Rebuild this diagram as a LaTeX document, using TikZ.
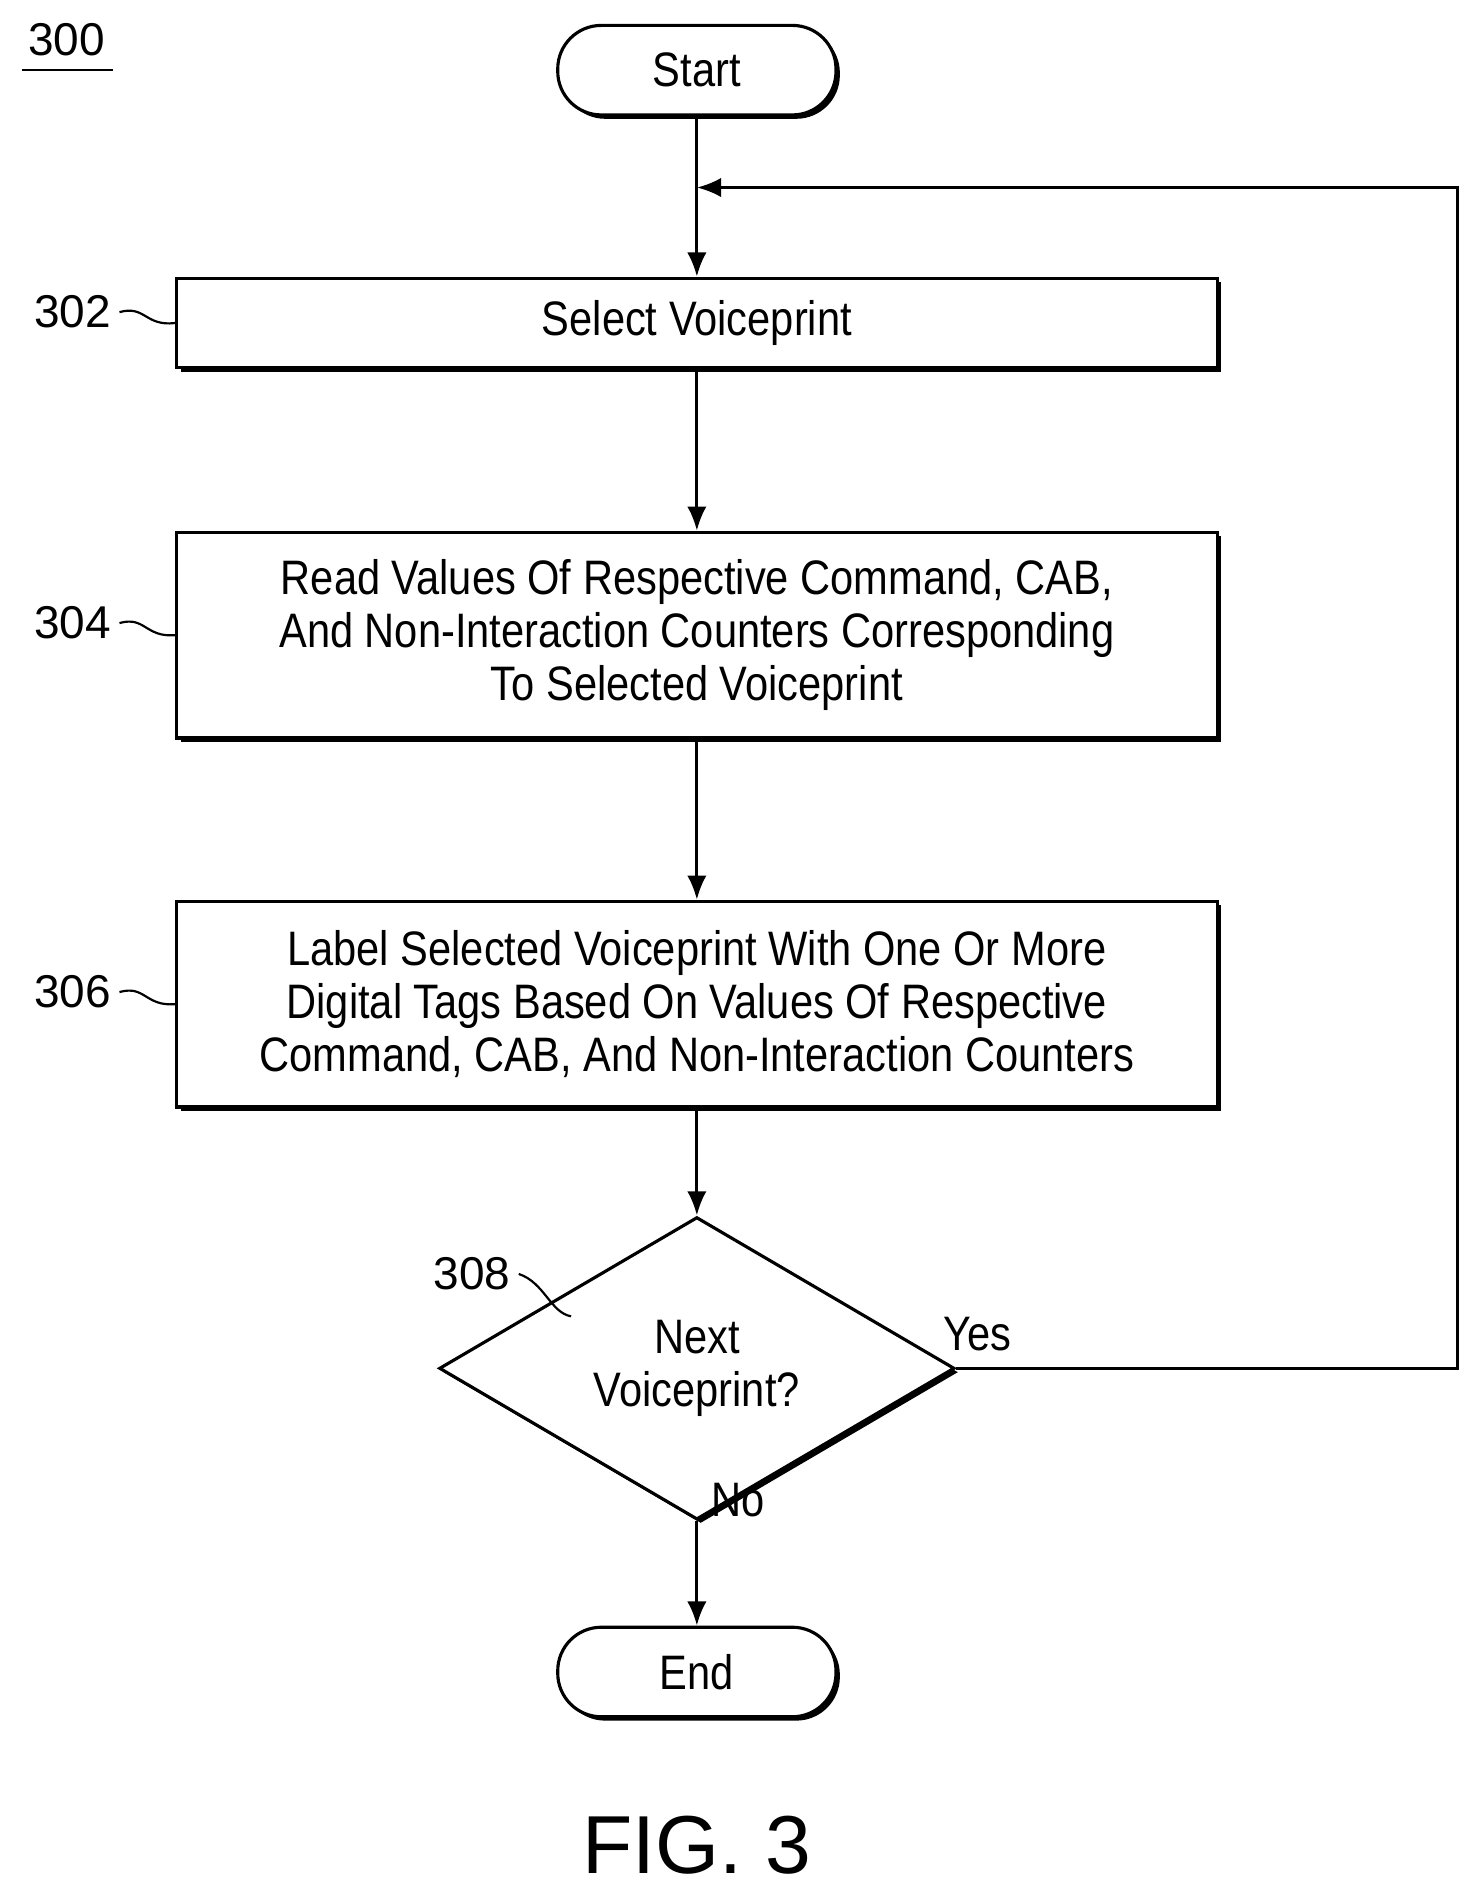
\documentclass[tikz,border=0pt]{standalone}
\usepackage{fontspec}
\setmainfont{Liberation Sans}
\newfontfamily\nar[FakeStretch=0.86]{Liberation Sans}
\usetikzlibrary{shapes.geometric,shadows,arrows.meta}
\begin{document}
\begin{tikzpicture}[x=0.5pt,y=-0.5pt,
 sh/.style={drop shadow={shadow xshift=1.6pt,shadow yshift=-1.6pt,fill=black,opacity=1}},
 box/.style={draw,line width=1.3pt,fill=white,sh,minimum width=430pt,align=center,font=\nar\fontsize{20}{22}\selectfont},
 term/.style={draw,line width=1.3pt,fill=white,sh,rounded corners=18pt,minimum width=115pt,minimum height=37pt,font=\nar\fontsize{20}{22}\selectfont},
 ar/.style={line width=1.3pt,-{Latex[length=10pt,width=8pt]}},
 lab/.style={font=\fontsize{19}{21}\selectfont}]
\useasboundingbox (0,0) rectangle (1224,1568);
\node[lab] (n300) at (55,33) {300};
\draw[line width=1pt] (18,58) -- (93,58);
\node[term] (start) at (576,58) {Start};
\node[box,minimum height=37pt] (b302) at (576,267) {Select Voiceprint};
\node[box,minimum height=85pt] (b304) at (576,525) {Read Values Of Respective Command, CAB,\\And Non-Interaction Counters Corresponding\\To Selected Voiceprint};
\node[box,minimum height=85pt] (b306) at (576,830) {Label Selected Voiceprint With One Or More\\Digital Tags Based On Values Of Respective\\Command, CAB, And Non-Interaction Counters};
\node[draw,line width=1.3pt,fill=white,sh,diamond,minimum width=213pt,minimum height=81pt,inner sep=0pt,align=center,font=\nar\fontsize{20}{22}\selectfont] (d308) at (576,1131) {Next\\Voiceprint?};
\node[term] (end) at (576,1382) {End};
\node[font=\fontsize{34}{36}\selectfont] (fig) at (576,1525) {FIG. 3};
\coordinate (m) at (576,155);
\coordinate (r1) at (1205,1131);
\coordinate (r2) at (1205,155);
\draw[line width=1.3pt] (start) -- (m);
\draw[ar] (m) -- (b302);
\draw[ar] (b302) -- (b304);
\draw[ar] (b304) -- (b306);
\draw[ar] (b306) -- (d308);
\draw[ar] (d308) -- (end);
\draw[ar] (d308.east) -- (r1) -- (r2) -- (m);
\node[lab,font=\nar\fontsize{20}{22}\selectfont] (yes) at (808,1103) {Yes};
\node[lab,font=\nar\fontsize{20}{22}\selectfont] (no) at (610,1240) {No};
\node[lab] (n302) at (60,258) {302};
\node[lab] (n304) at (60,515) {304};
\node[lab] (n306) at (60,820) {306};
\node[lab] (n308) at (390,1053) {308};
\draw[line width=0.9pt] (n302.east) .. controls (120,252) and (120,270) .. (b302.west);
\draw[line width=0.9pt] (n304.east) .. controls (120,509) and (120,527) .. (b304.west);
\draw[line width=0.9pt] (n306.east) .. controls (120,814) and (120,832) .. (b306.west);
\draw[line width=0.9pt] (n308.east) .. controls (450,1060) and (455,1085) .. (472,1088);
\end{tikzpicture}
\end{document}
